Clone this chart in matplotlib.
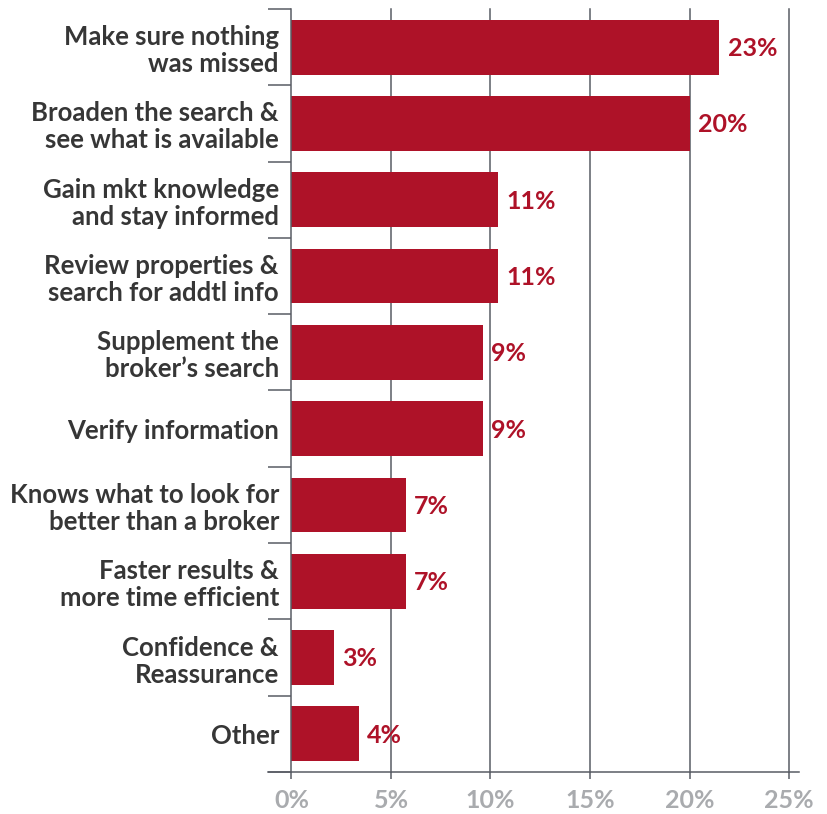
import numpy as np
import matplotlib
matplotlib.use('Agg')
import matplotlib.pyplot as plt

# categories, top to bottom
categories = ['Make sure nothing\nwas missed',
              'Broaden the search &\nsee what is available',
              'Gain mkt knowledge\nand stay informed',
              'Review properties &\nsearch for addtl info',
              'Supplement the\nbroker\u2019s search',
              'Verify information',
              'Knows what to look for\nbetter than a broker',
              'Faster results &\nmore time efficient',
              'Confidence &\nReassurance',
              'Other']
# bar lengths as drawn (percent)
values = [21.5, 20.0, 10.4, 10.4, 9.6, 9.6, 5.75, 5.75, 2.13, 3.38]
# printed labels
value_labels = ['23%', '20%', '11%', '11%', '9%', '9%', '7%', '7%', '3%', '4%']
xticks = [0, 5, 10, 15, 20, 25]

RED = '#ae1228'
GRID = '#585c64'
TEXT = '#363636'
TICK = '#a9abae'

plt.rcParams['font.family'] = ['Lato', 'DejaVu Sans']

W, H = 828, 814
fig = plt.figure(figsize=(W / 100, H / 100), dpi=100)
x0, x1 = 291.5, 789
ytop, ybot = 9, 772
ax = fig.add_axes([x0 / W, 1 - ybot / H, (x1 - x0) / W, (ybot - ytop) / H])

n = len(categories)
ypos = np.arange(n)
ax.set_ylim(n - 0.5, -0.5)
ax.set_xlim(0, 25)

# vertical grid lines behind bars
for t in xticks[1:]:
    ax.axvline(t, color=GRID, lw=1.1, zorder=0, clip_on=False)

ax.barh(ypos, values, height=0.717, color=RED, zorder=2)

for y, v, lab in zip(ypos, values, value_labels):
    ax.annotate(lab, (v, y), xytext=(6, -1), textcoords='offset points',
                ha='left', va='center', color=RED, fontsize=18,
                fontweight='bold')

for s in ['top', 'right', 'bottom']:
    ax.spines[s].set_visible(False)
ax.spines['left'].set_color(GRID)
ax.spines['left'].set_linewidth(1.1)

# bottom axis line, running a bit past both ends
ax.plot([-23.5 / (x1 - x0), 1 + 10 / (x1 - x0)], [0, 0], color=GRID, lw=1.1,
        transform=ax.transAxes, clip_on=False, zorder=3)

ax.set_xticks(xticks)
ax.set_xticklabels(['%d%%' % t for t in xticks])
ax.tick_params(axis='x', length=5, width=1.1, color=GRID, pad=7.5,
               labelsize=18, labelcolor=TICK)
for lab in ax.get_xticklabels():
    lab.set_fontweight('bold')

ax.set_yticks(ypos)
ax.set_yticklabels(categories)
ax.set_yticks(np.arange(n + 1) - 0.5, minor=True)
ax.tick_params(axis='y', which='major', length=0, pad=9, labelsize=18.5,
               labelcolor=TEXT)
ax.tick_params(axis='y', which='minor', length=16.5, width=1.1, color=GRID)
for lab in ax.get_yticklabels():
    lab.set_fontweight('bold')
    lab.set_multialignment('right')
    lab.set_linespacing(1.15)

fig.savefig('out.png', dpi=100)
